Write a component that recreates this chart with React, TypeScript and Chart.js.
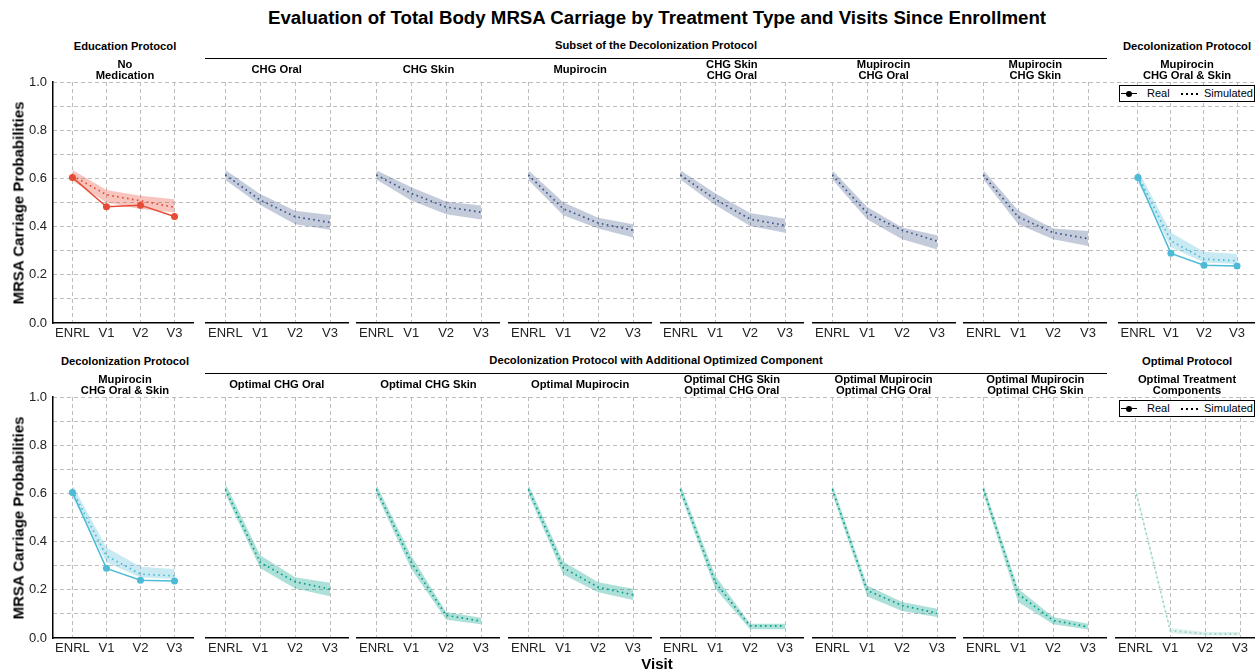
import React, { useEffect, useRef } from 'react';
import { Chart, registerables } from 'chart.js';

Chart.register(...registerables);

const FONT = '"Liberation Sans", Arial, Helvetica, sans-serif';
Chart.defaults.font.family = FONT;

// ---------- data ----------
const VISITS = ['ENRL', 'V1', 'V2', 'V3'];
const Y_TICKS = [0, 0.2, 0.4, 0.6, 0.8, 1.0];
const GRID_LEVELS = [0, 0.1, 0.2, 0.3, 0.4, 0.5, 0.6, 0.7, 0.8, 0.9, 1.0];

// Row 1
const NO_MED_REAL = [0.604, 0.482, 0.489, 0.442];
const NO_MED_SIM = [0.612, 0.532, 0.507, 0.48];
const NO_MED_LO = [0.59, 0.5, 0.473, 0.459];
const NO_MED_HI = [0.635, 0.552, 0.528, 0.514];

const CHG_ORAL_SIM = [0.615, 0.51, 0.441, 0.417];
const CHG_ORAL_LO = [0.593, 0.49, 0.41, 0.387];
const CHG_ORAL_HI = [0.635, 0.535, 0.466, 0.448];

const CHG_SKIN_SIM = [0.614, 0.538, 0.481, 0.46];
const CHG_SKIN_LO = [0.595, 0.508, 0.451, 0.429];
const CHG_SKIN_HI = [0.634, 0.563, 0.504, 0.488];

const MUP_SIM = [0.614, 0.474, 0.415, 0.385];
const MUP_LO = [0.593, 0.447, 0.392, 0.355];
const MUP_HI = [0.634, 0.501, 0.437, 0.41];

const SKIN_ORAL_SIM = [0.614, 0.513, 0.431, 0.405];
const SKIN_ORAL_LO = [0.595, 0.49, 0.403, 0.374];
const SKIN_ORAL_HI = [0.634, 0.538, 0.456, 0.433];

const MUP_ORAL_SIM = [0.614, 0.456, 0.385, 0.34];
const MUP_ORAL_LO = [0.595, 0.429, 0.347, 0.305];
const MUP_ORAL_HI = [0.634, 0.481, 0.396, 0.364];

const MUP_SKIN_SIM = [0.614, 0.44, 0.375, 0.35];
const MUP_SKIN_LO = [0.595, 0.41, 0.347, 0.319];
const MUP_SKIN_HI = [0.634, 0.467, 0.392, 0.382];

const DECOL_REAL = [0.604, 0.289, 0.24, 0.236];
const DECOL_SIM = [0.612, 0.341, 0.265, 0.258];
const DECOL_LO = [0.583, 0.314, 0.251, 0.245];
const DECOL_HI = [0.635, 0.376, 0.296, 0.286];

// Row 2
const OPT_ORAL_SIM = [0.617, 0.313, 0.233, 0.203];
const OPT_ORAL_LO = [0.598, 0.289, 0.205, 0.173];
const OPT_ORAL_HI = [0.642, 0.343, 0.252, 0.229];

const OPT_SKIN_SIM = [0.617, 0.314, 0.094, 0.07];
const OPT_SKIN_LO = [0.598, 0.286, 0.076, 0.057];
const OPT_SKIN_HI = [0.638, 0.341, 0.108, 0.084];

const OPT_MUP_SIM = [0.617, 0.291, 0.211, 0.179];
const OPT_MUP_LO = [0.598, 0.263, 0.19, 0.158];
const OPT_MUP_HI = [0.638, 0.317, 0.231, 0.204];

const OPT_SKIN_ORAL_SIM = [0.617, 0.231, 0.05, 0.05];
const OPT_SKIN_ORAL_LO = [0.598, 0.204, 0.036, 0.036];
const OPT_SKIN_ORAL_HI = [0.638, 0.259, 0.059, 0.059];

const OPT_MUP_ORAL_SIM = [0.617, 0.197, 0.135, 0.103];
const OPT_MUP_ORAL_LO = [0.598, 0.172, 0.112, 0.087];
const OPT_MUP_ORAL_HI = [0.638, 0.218, 0.149, 0.121];

const OPT_MUP_SKIN_SIM = [0.617, 0.183, 0.073, 0.046];
const OPT_MUP_SKIN_LO = [0.598, 0.149, 0.057, 0.035];
const OPT_MUP_SKIN_HI = [0.638, 0.204, 0.087, 0.059];

const OPTIMAL_SIM = [0.617, 0.031, 0.017, 0.017];
const OPTIMAL_LO = [0.605, 0.021, 0.01, 0.01];
const OPTIMAL_HI = [0.63, 0.042, 0.025, 0.025];

// ---------- styles ----------
const RED = '#E64B35';
const RED_BAND = 'rgba(230,75,53,0.32)';
const NAVY = '#3C5488';
const NAVY_BAND = 'rgba(60,84,136,0.3)';
const CYAN = '#4DBBD5';
const CYAN_BAND = 'rgba(77,187,213,0.3)';
const TEAL = '#00A087';
const TEAL_BAND = 'rgba(0,160,135,0.32)';
const PALE = '#91D1C2';
const PALE_BAND = 'rgba(145,209,194,0.3)';
const GRID = '#bdbdbd';

interface PanelSpec {
  title: string[];
  sim: number[];
  lo: number[];
  hi: number[];
  real?: number[];
  line: string;
  band: string;
}

const ROW1_PANELS: PanelSpec[] = [
  { title: ['No', 'Medication'], sim: NO_MED_SIM, lo: NO_MED_LO, hi: NO_MED_HI, real: NO_MED_REAL, line: RED, band: RED_BAND },
  { title: ['CHG Oral'], sim: CHG_ORAL_SIM, lo: CHG_ORAL_LO, hi: CHG_ORAL_HI, line: NAVY, band: NAVY_BAND },
  { title: ['CHG Skin'], sim: CHG_SKIN_SIM, lo: CHG_SKIN_LO, hi: CHG_SKIN_HI, line: NAVY, band: NAVY_BAND },
  { title: ['Mupirocin'], sim: MUP_SIM, lo: MUP_LO, hi: MUP_HI, line: NAVY, band: NAVY_BAND },
  { title: ['CHG Skin', 'CHG Oral'], sim: SKIN_ORAL_SIM, lo: SKIN_ORAL_LO, hi: SKIN_ORAL_HI, line: NAVY, band: NAVY_BAND },
  { title: ['Mupirocin', 'CHG Oral'], sim: MUP_ORAL_SIM, lo: MUP_ORAL_LO, hi: MUP_ORAL_HI, line: NAVY, band: NAVY_BAND },
  { title: ['Mupirocin', 'CHG Skin'], sim: MUP_SKIN_SIM, lo: MUP_SKIN_LO, hi: MUP_SKIN_HI, line: NAVY, band: NAVY_BAND },
  { title: ['Mupirocin', 'CHG Oral & Skin'], sim: DECOL_SIM, lo: DECOL_LO, hi: DECOL_HI, real: DECOL_REAL, line: CYAN, band: CYAN_BAND },
];

const ROW2_PANELS: PanelSpec[] = [
  { title: ['Mupirocin', 'CHG Oral & Skin'], sim: DECOL_SIM, lo: DECOL_LO, hi: DECOL_HI, real: DECOL_REAL, line: CYAN, band: CYAN_BAND },
  { title: ['Optimal CHG Oral'], sim: OPT_ORAL_SIM, lo: OPT_ORAL_LO, hi: OPT_ORAL_HI, line: TEAL, band: TEAL_BAND },
  { title: ['Optimal CHG Skin'], sim: OPT_SKIN_SIM, lo: OPT_SKIN_LO, hi: OPT_SKIN_HI, line: TEAL, band: TEAL_BAND },
  { title: ['Optimal Mupirocin'], sim: OPT_MUP_SIM, lo: OPT_MUP_LO, hi: OPT_MUP_HI, line: TEAL, band: TEAL_BAND },
  { title: ['Optimal CHG Skin', 'Optimal CHG Oral'], sim: OPT_SKIN_ORAL_SIM, lo: OPT_SKIN_ORAL_LO, hi: OPT_SKIN_ORAL_HI, line: TEAL, band: TEAL_BAND },
  { title: ['Optimal Mupirocin', 'Optimal CHG Oral'], sim: OPT_MUP_ORAL_SIM, lo: OPT_MUP_ORAL_LO, hi: OPT_MUP_ORAL_HI, line: TEAL, band: TEAL_BAND },
  { title: ['Optimal Mupirocin', 'Optimal CHG Skin'], sim: OPT_MUP_SKIN_SIM, lo: OPT_MUP_SKIN_LO, hi: OPT_MUP_SKIN_HI, line: TEAL, band: TEAL_BAND },
  { title: ['Optimal Treatment', 'Components'], sim: OPTIMAL_SIM, lo: OPTIMAL_LO, hi: OPTIMAL_HI, line: PALE, band: PALE_BAND },
];

const ROWS = [
  { top: 82, leftTitle: 'Education Protocol', groupTitle: 'Subset of the Decolonization Protocol', rightTitle: 'Decolonization Protocol', panels: ROW1_PANELS },
  { top: 397, leftTitle: 'Decolonization Protocol', groupTitle: 'Decolonization Protocol with Additional Optimized Component', rightTitle: 'Optimal Protocol', panels: ROW2_PANELS },
];

// ---------- layout ----------
const W = 1255;
const H = 670;
const PLOT_H = 241;
const PANEL_W = 144;
const PANEL_X0 = 53;
const PANEL_STEP = 151.72;
const PAD_T = 18;
const AXIS_H = 24;
const YAXIS_W = 53;
const X_MIN = -0.571;
const X_MAX = 3.543;
const LEGEND_DOTS = [0, 1, 2, 3];

const panelLeft = (i: number) => PANEL_X0 + i * PANEL_STEP;

function Panel({ spec, left, top, showY }: { spec: PanelSpec; left: number; top: number; showY: boolean }) {
  const ref = useRef<HTMLCanvasElement>(null);
  const cw = PANEL_W + (showY ? YAXIS_W : 0);
  const ch = PAD_T + PLOT_H + AXIS_H;
  useEffect(() => {
    if (!ref.current) return;
    const pts = (arr: number[]) => arr.map((v, i) => ({ x: i, y: v }));
    const datasets: any[] = [];
    if (spec.real) {
      datasets.push({
        data: pts(spec.real),
        borderColor: spec.line,
        backgroundColor: spec.line,
        borderWidth: 1.5,
        pointRadius: 3.5,
        pointBorderWidth: 0,
        pointBackgroundColor: spec.line,
        fill: false,
        tension: 0,
      });
    }
    datasets.push({
      data: pts(spec.sim),
      borderColor: spec.line,
      borderWidth: 1.7,
      borderDash: [1.6, 3.4],
      pointRadius: 0,
      fill: false,
      tension: 0,
    });
    datasets.push({
      data: pts(spec.hi),
      borderColor: 'rgba(0,0,0,0)',
      borderWidth: 0,
      backgroundColor: spec.band,
      pointRadius: 0,
      fill: '+1',
      tension: 0,
    });
    datasets.push({
      data: pts(spec.lo),
      borderColor: 'rgba(0,0,0,0)',
      borderWidth: 0,
      pointRadius: 0,
      fill: false,
      tension: 0,
    });
    const chart = new Chart(ref.current, {
      type: 'line',
      data: { datasets },
      options: {
        animation: false,
        responsive: false,
        events: [],
        layout: { padding: { top: PAD_T, left: 0, right: 0, bottom: 0 } },
        plugins: { legend: { display: false }, tooltip: { enabled: false } },
        scales: {
          x: {
            type: 'linear',
            min: X_MIN,
            max: X_MAX,
            afterBuildTicks: (s: any) => {
              s.ticks = VISITS.map((_, i) => ({ value: i }));
            },
            afterFit: (s: any) => {
              s.height = AXIS_H;
            },
            ticks: {
              callback: (v: any) => VISITS[Number(v)] ?? '',
              color: '#222',
              font: { size: 13 },
              padding: 3,
              maxRotation: 0,
              autoSkip: false,
            },
            grid: { color: GRID, lineWidth: 1, drawTicks: false },
            border: { display: true, color: '#000', width: 1.5, dash: [4, 3] },
          },
          y: {
            type: 'linear',
            min: 0,
            max: 1,
            afterBuildTicks: (s: any) => {
              s.ticks = Y_TICKS.map((v) => ({ value: v }));
            },
            afterFit: (s: any) => {
              s.width = showY ? YAXIS_W : 0;
            },
            ticks: {
              display: showY,
              callback: (v: any) => Number(v).toFixed(1),
              color: '#222',
              font: { size: 13 },
              padding: 6,
            },
            grid: { display: false, drawTicks: false },
            border: { display: showY, color: '#000', width: 1.5 },
          },
        },
      } as any,
    });
    return () => chart.destroy();
  }, []);
  return (
    <canvas
      ref={ref}
      width={cw}
      height={ch}
      style={{ position: 'absolute', left: left - (showY ? YAXIS_W : 0), top: top - PAD_T, width: cw, height: ch }}
    />
  );
}

function RowGrid({ top }: { top: number }) {
  const ref = useRef<HTMLCanvasElement>(null);
  const cw = W - PANEL_X0;
  const ch = PAD_T + PLOT_H + 1;
  useEffect(() => {
    if (!ref.current) return;
    const chart = new Chart(ref.current, {
      type: 'line',
      data: { datasets: [] },
      options: {
        animation: false,
        responsive: false,
        events: [],
        layout: { padding: { top: PAD_T, left: 0, right: 0, bottom: 1 } },
        plugins: { legend: { display: false }, tooltip: { enabled: false } },
        scales: {
          x: { type: 'linear', min: 0, max: 1, display: false },
          y: {
            type: 'linear',
            min: 0,
            max: 1,
            afterBuildTicks: (s: any) => {
              s.ticks = GRID_LEVELS.map((v) => ({ value: v }));
            },
            afterFit: (s: any) => {
              s.width = 0;
            },
            ticks: { display: false },
            grid: {
              drawTicks: false,
              lineWidth: 1,
              color: (c: any) => (c.tick && c.tick.value === 0 ? 'rgba(0,0,0,0)' : GRID),
            },
            border: { display: false, dash: [4, 3] },
          },
        },
      } as any,
    });
    return () => chart.destroy();
  }, []);
  return (
    <canvas
      ref={ref}
      width={cw}
      height={ch}
      style={{ position: 'absolute', left: PANEL_X0, top: top - PAD_T, width: cw, height: ch }}
    />
  );
}

const headStyle: React.CSSProperties = {
  position: 'absolute',
  width: 220,
  textAlign: 'center',
  fontWeight: 'bold',
  fontSize: 11.2,
  lineHeight: '11.5px',
  color: '#000',
  whiteSpace: 'nowrap',
};

function Legend({ top }: { top: number }) {
  return (
    <div
      style={{
        position: 'absolute',
        left: 1119,
        top,
        width: 134,
        height: 15,
        border: '1px solid #000',
        background: '#fff',
        fontSize: 11,
        lineHeight: '15px',
        color: '#000',
        zIndex: 5,
      }}
    >
      <div style={{ position: 'absolute', left: 1, top: 7, width: 16, borderTop: '1.5px solid #000' }} />
      <div style={{ position: 'absolute', left: 6, top: 4.8, width: 6, height: 6, borderRadius: '50%', background: '#000' }} />
      <span style={{ position: 'absolute', left: 27, top: 0 }}>Real</span>
      {LEGEND_DOTS.map((k) => (
        <div
          key={k}
          style={{ position: 'absolute', left: 61 + k * 5, top: 7, width: 1.6, height: 1.6, background: '#000' }}
        />
      ))}
      <span style={{ position: 'absolute', left: 84, top: 0 }}>Simulated</span>
    </div>
  );
}

export default function App() {
  return (
    <div
      style={{
        position: 'fixed',
        left: 0,
        top: 0,
        width: W,
        height: H,
        overflow: 'hidden',
        background: '#fff',
        fontFamily: FONT,
      }}
    >
      <div
        style={{
          position: 'absolute',
          left: 657,
          top: 18,
          transform: 'translate(-50%, -50%)',
          fontWeight: 'bold',
          fontSize: 18.7,
          whiteSpace: 'nowrap',
          color: '#000',
        }}
      >
        Evaluation of Total Body MRSA Carriage by Treatment Type and Visits Since Enrollment
      </div>

      {ROWS.map((row, r) => {
        const groupTop = row.top - 35;
        const subCenter = row.top - 12;
        return (
          <React.Fragment key={r}>
            <RowGrid top={row.top} />
            {row.panels.map((p, i) => (
              <Panel key={i} spec={p} left={panelLeft(i)} top={row.top} showY={i === 0} />
            ))}
            {/* outer headers */}
            <div style={{ ...headStyle, left: panelLeft(0) + PANEL_W / 2 - 110, top: groupTop - 6 }}>{row.leftTitle}</div>
            <div style={{ ...headStyle, left: panelLeft(7) + PANEL_W / 2 - 110, top: groupTop - 6 }}>{row.rightTitle}</div>
            {/* group header */}
            <div
              style={{
                ...headStyle,
                width: 600,
                left: (panelLeft(1) + panelLeft(6) + PANEL_W) / 2 - 300,
                top: groupTop - 7,
              }}
            >
              {row.groupTitle}
            </div>
            <div
              style={{
                position: 'absolute',
                left: panelLeft(1),
                width: panelLeft(6) + PANEL_W - panelLeft(1),
                top: groupTop + 11,
                borderTop: '1.5px solid #000',
              }}
            />
            {/* strip labels */}
            {row.panels.map((p, i) => (
              <div
                key={'t' + i}
                style={{
                  ...headStyle,
                  left: panelLeft(i) + PANEL_W / 2 - 110,
                  top: subCenter - (p.title.length * 11.5) / 2,
                }}
              >
                {p.title.map((t, k) => (
                  <div key={k}>{t}</div>
                ))}
              </div>
            ))}
            {/* y title */}
            <div
              style={{
                position: 'absolute',
                left: 18,
                top: row.top + PLOT_H / 2,
                transform: 'translate(-50%, -50%) rotate(-90deg)',
                fontWeight: 'bold',
                fontSize: 15,
                whiteSpace: 'nowrap',
                color: '#000',
              }}
            >
              MRSA Carriage Probabilities
            </div>
            <Legend top={row.top + 3} />
          </React.Fragment>
        );
      })}

      <div
        style={{
          position: 'absolute',
          left: 657,
          top: 663,
          transform: 'translate(-50%, -50%)',
          fontWeight: 'bold',
          fontSize: 15,
          color: '#000',
        }}
      >
        Visit
      </div>
    </div>
  );
}
